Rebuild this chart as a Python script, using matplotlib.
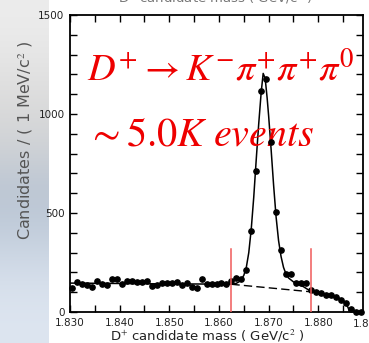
import matplotlib
matplotlib.use('Agg')
import matplotlib.pyplot as plt
import numpy as np

plt.rcParams['mathtext.fontset'] = 'stix'

# data points, 1 MeV bins
mass = [1.8305 + 0.001 * i for i in range(59)]
counts = [121, 152, 143, 135, 126, 157, 143, 135, 168, 168,
          143, 157, 157, 152, 152, 157, 130, 138, 146, 146,
          146, 152, 135, 146, 126, 123, 165, 140, 140, 143,
          146, 140, 157, 172, 165, 214, 409, 712, 1116, 1177,
          858, 505, 313, 192, 192, 148, 148, 148, 111, 101,
          96, 86, 86, 76, 61, 45, 15, 0, 0]

# fit curve
fit_x = [1.830, 1.840, 1.850, 1.860, 1.862, 1.863, 1.8635, 1.864, 1.8645,
         1.865, 1.8655, 1.866, 1.8665, 1.867, 1.8675, 1.868, 1.8685, 1.8689,
         1.8693, 1.8697, 1.870, 1.8705, 1.871, 1.8715, 1.872, 1.8725, 1.873,
         1.8735, 1.874, 1.875, 1.876, 1.877, 1.878, 1.8785, 1.880, 1.882,
         1.884, 1.885, 1.8855, 1.886, 1.8863, 1.889]
fit_y = [146, 144, 142, 141, 140, 142, 145, 152, 165,
         185, 225, 300, 420, 580, 770, 950, 1110, 1205,
         1180, 1080, 990, 820, 640, 480, 360, 280, 225,
         192, 172, 152, 140, 128, 112, 104, 96, 87,
         72, 58, 45, 22, 0, 0]

# background under the peak
bkg_x = [1.8625, 1.8785]
bkg_y = [140, 102]

# signal window
window = [1.8625, 1.8785]

# slide background strip on the left
strip_colors = ['#ececec', '#e4e4e4', '#dadada', '#cfd2d6', '#b9c4d2',
                '#c4cfdd', '#d6dfeb', '#dde5f0']

fig = plt.figure(figsize=(3.69, 3.43), dpi=100)
fig.patch.set_facecolor('white')

bg = fig.add_axes([0, 0, 48 / 369, 1])
bg.imshow(np.array([matplotlib.colors.to_rgb(c) for c in strip_colors])[:, None, :],
          aspect='auto', interpolation='bicubic', extent=[0, 1, 0, 1])
bg.set_axis_off()

ax = fig.add_axes([70 / 369, 1 - 312 / 343, 293 / 369, 297 / 343])

ax.plot(fit_x, fit_y, color='black', lw=1.1, zorder=3)
ax.plot(bkg_x, bkg_y, color='black', lw=1.0, ls=(0, (6, 3)), zorder=3)
ax.plot(mass, counts, 'o', color='black', ms=3.8, zorder=4, clip_on=False)
for w in window:
    ax.plot([w, w], [0, 318], color='#f05a5a', lw=1.1, zorder=5)

ax.set_xlim(1.830, 1.889)
ax.set_ylim(0, 1500)
ax.set_xticks([1.830, 1.840, 1.850, 1.860, 1.870, 1.880])
ax.set_xticklabels(['1.830', '1.840', '1.850', '1.860', '1.870', '1.880'])
ax.set_xticks(np.arange(1.835, 1.889, 0.01), minor=True)
ax.set_yticks([0, 500, 1000, 1500])
ax.set_yticks([100, 200, 300, 400, 600, 700, 800, 900, 1100, 1200, 1300, 1400], minor=True)
ax.tick_params(which='both', direction='in', top=True, right=True, length=5,
               width=1.0, labelsize=7.5, labelcolor='#222222', pad=4)
for s in ax.spines.values():
    s.set_linewidth(1.3)

# cut-off 1.890 label at the right edge
ax.text(1.890, -0.025, '1.890', transform=ax.get_xaxis_transform(),
        ha='center', va='top', fontsize=7.5, color='#222222', clip_on=False)

ax.set_xlabel('D$^{+}$ candidate mass ( GeV/c$^{2}$ )', fontsize=9.5,
              color='#222222')
ax.xaxis.set_label_coords(0.47, -0.055)
ax.set_ylabel('Candidates / ( 1 MeV/c$^{2}$ )', fontsize=11.5, color='#555555')
ax.yaxis.set_label_coords(-0.118, 0.58)

fig.text(0.585, 1 - 3 / 343, 'D$^{+}$ candidate mass ( GeV/c$^{2}$ )',
         ha='center', va='baseline', fontsize=9.5, color='#777777')

ax.text(0.058, 0.781, r'$D^{+}\rightarrow K^{-}\pi^{+}\pi^{+}\pi^{0}$',
        transform=ax.transAxes, color='#ee0000', fontsize=27.5, va='baseline')
ax.text(0.058, 0.562, r'$\sim 5.0K\ events$',
        transform=ax.transAxes, color='#ee0000', fontsize=29, va='baseline')

fig.savefig('out.png', dpi=100)
